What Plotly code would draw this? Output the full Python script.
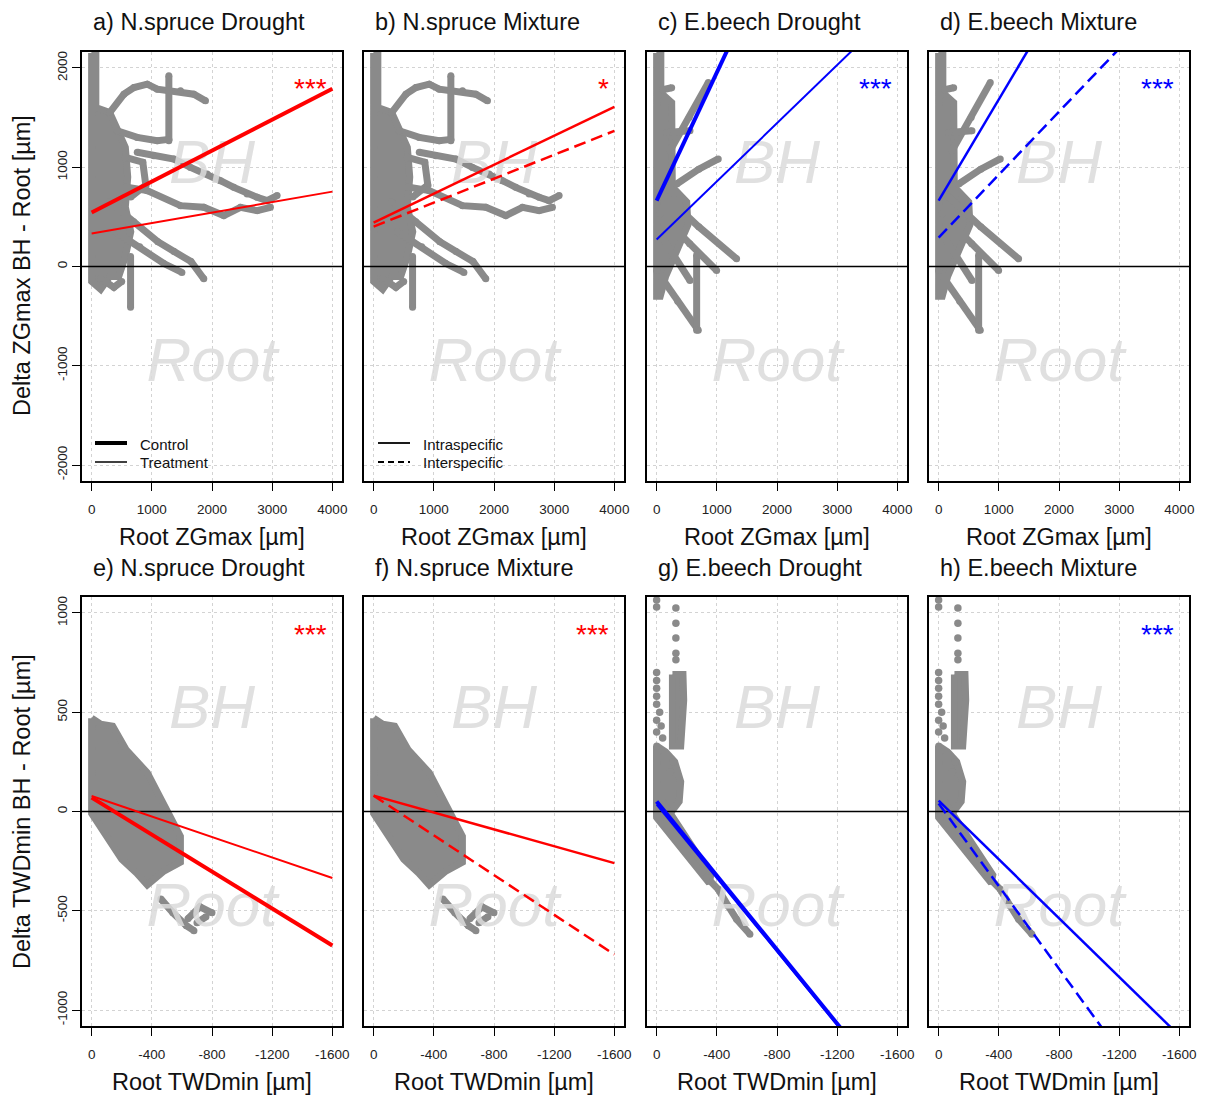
import plotly.graph_objects as go

# ---------------------------------------------------------------- layout grid
W, H = 1208, 1097
PANEL_LEFT = [82, 364, 647, 929]
PANEL_W = 260
ROW_TOP = [52, 597]
PANEL_H = 429

FONT = "Liberation Sans, Arial, sans-serif"
GRAY = "#8a8a8a"
RED = "#ff0000"
BLUE = "#0000ff"

# ---------------------------------------------------------------- panel texts
TITLES = ["a) N.spruce Drought", "b) N.spruce Mixture", "c) E.beech Drought", "d) E.beech Mixture",
          "e) N.spruce Drought", "f) N.spruce Mixture", "g) E.beech Drought", "h) E.beech Mixture"]
STARS = ["***", "*", "***", "***", "***", "***", "", "***"]
X_TITLES = ["Root ZGmax [µm]", "Root TWDmin [µm]"]
Y_TITLES = ["Delta ZGmax BH - Root [µm]", "Delta TWDmin BH - Root [µm]"]

# ---------------------------------------------------------------- axes
X_LIM = [(0, 4000), (0, -1600)]
Y_LIM = [(-2000, 2000), (-1000, 1000)]
X_TICKS = [[0, 1000, 2000, 3000, 4000], [0, -400, -800, -1200, -1600]]
Y_TICKS = [[-2000, -1000, 0, 1000, 2000], [-1000, -500, 0, 500, 1000]]

# ---------------------------------------------------------------- point clouds
# dense regions (outlines) and trajectories of the gray observations
SPRUCE_ZG_MASS = [[(0, 2150), (70, 2150), (70, 1600), (300, 1550), (450, 1350), (560, 1200), (600, 900),
                   (560, 600), (650, 350), (560, 100), (450, -100), (300, -100), (150, -230), (0, -150)]]
SPRUCE_ZG_TRAILS = [
    [(300, 1550), (537, 1735), (702, 1802), (924, 1836), (1090, 1786), (1283, 1769), (1477, 1769),
     (1698, 1735), (1892, 1668)],
    [(1283, 1920), (1283, 1266)],
    [(426, 1367), (758, 1300), (1090, 1266), (1283, 1280)],
    [(560, 1100), (850, 1050), (900, 820), (650, 700)],
    [(758, 1150), (1035, 1116), (1367, 1082), (1643, 998), (1920, 931), (2141, 864), (2362, 797),
     (2584, 730), (2750, 697), (2916, 663), (3082, 714)],
    [(560, 800), (924, 764), (1477, 613), (1864, 596), (2196, 513), (2473, 596), (2750, 563), (2971, 596)],
    [(300, 650), (700, 450), (1100, 250), (1370, 150), (1650, 50), (1864, -124)],
    [(400, 350), (800, 200), (1200, 30), (1500, -60)],
    [(647, 100), (647, -410)],
    [(150, -120), (370, -210), (500, -150)],
]
BEECH_ZG_MASS = [[(0, 2150), (70, 2150), (70, 1750), (250, 1650), (260, 800), (500, 650), (520, 420),
                  (330, 150), (150, -100), (60, -300), (0, -300)]]
BEECH_ZG_TRAILS = [
    [(222, 1166), (540, 1500), (858, 1852)],
    [(166, 1350), (554, 1367)],
    [(100, 1780), (250, 1800)],
    [(333, 831), (700, 980), (1024, 1083)],
    [(56, 764), (700, 400), (1329, 77)],
    [(56, 530), (550, 230), (997, -40)],
    [(56, 329), (554, -141)],
    [(0, -40), (350, -350), (692, -643)],
    [(665, 117), (665, -643)],
]
SPRUCE_TWD_MASS = [[(0, 470), (-60, 440), (-140, 430), (-230, 310), (-370, 195), (-490, 25), (-590, -125),
                    (-590, -255), (-480, -300), (-370, -370), (-300, -310), (-200, -240), (-100, -120),
                    (0, -10)]]
SPRUCE_TWD_TRAILS = [
    [(-460, -440), (-540, -510), (-630, -575), (-680, -600)],
    [(-640, -540), (-720, -480), (-800, -510)],
    [(-700, -560), (-760, -530)],
]
BEECH_TWD_MASS = [
    [(-105, 690), (-175, 690), (-180, 560), (-160, 330), (-105, 330)],
    [(0, 330), (-60, 300), (-120, 250), (-160, 150), (-150, 50), (-100, 0), (0, -10)],
    [(0, 60), (-30, 60), (-360, -320), (-350, -360), (0, -30)],
]
BEECH_TWD_TRAILS = [
    [(0, 330), (0, 0)],
    [(-330, -330), (-410, -392), (-476, -476), (-532, -543), (-620, -618)],
]
BEECH_TWD_DOTS = [(0, 1065), (0, 1030), (-128, 1024), (-128, 948), (-128, 873), (-128, 797), (-128, 764),
                  (0, 700), (0, 660), (0, 620), (0, 580), (0, 540), (-20, 500), (0, 460), (-30, 430),
                  (0, 400), (-40, 370), (-110, 250), (-90, 200)]

CLOUDS = [
    (SPRUCE_ZG_MASS, SPRUCE_ZG_TRAILS, []),
    (BEECH_ZG_MASS, BEECH_ZG_TRAILS, []),
    (SPRUCE_TWD_MASS, SPRUCE_TWD_TRAILS, []),
    (BEECH_TWD_MASS, BEECH_TWD_TRAILS, BEECH_TWD_DOTS),
]

# ---------------------------------------------------------------- fitted lines  y = b0 + b1 * x
FIT1_INTERCEPT = [543, 442, 663, 663, 70, 80, 50, 55]
FIT1_SLOPE = [0.3115, 0.2915, 1.29, 1.02, 0.4656, 0.2125, 0.932, 0.74]
FIT2_INTERCEPT = [332, 402, 271, 291, 78, 80, 35, 40]
FIT2_SLOPE = [0.1055, 0.241, 0.586, 0.634, 0.258, 0.5, 0.925, 1.04]

LEGEND_TREAT = ["Control", "Treatment"]
LEGEND_MIX = ["Intraspecific", "Interspecific"]


def px_x(v):
    return v / W


def px_y(v):
    return 1 - v / H


fig = go.Figure()
annotations = []
shapes = []

for i in range(8):
    row, col = divmod(i, 4)
    left = PANEL_LEFT[col]
    top = ROW_TOP[row]
    xs = "" if i == 0 else str(i + 1)
    xref, yref = "x" + xs, "y" + xs

    xlo, xhi = X_LIM[row]
    ylo, yhi = Y_LIM[row]
    pad_x = 0.04 * (xhi - xlo)
    pad_y = 0.04 * (yhi - ylo)
    xr = [xlo - pad_x, xhi + pad_x]
    yr = [ylo - pad_y, yhi + pad_y]

    tick_text = [str(v) for v in X_TICKS[row]]
    fig.layout["xaxis" + xs] = dict(
        domain=[px_x(left), px_x(left + PANEL_W)], anchor=yref, range=xr, autorange=False,
        automargin=False,
        tickvals=X_TICKS[row], ticktext=tick_text, ticks="outside", ticklen=8, tickwidth=1.3,
        tickcolor="black", tickfont=dict(family=FONT, size=13.5, color="#222"), ticklabelstandoff=7,
        showgrid=True, gridcolor="#d3d3d3", griddash="dot", gridwidth=1, zeroline=False,
        showline=True, mirror=True, linecolor="black", linewidth=1.5,
    )
    fig.layout["yaxis" + xs] = dict(
        domain=[px_y(top + PANEL_H), px_y(top)], anchor=xref, range=yr, autorange=False,
        automargin=False,
        tickvals=Y_TICKS[row], ticktext=[str(v) for v in Y_TICKS[row]],
        showticklabels=(col == 0), ticks="outside" if col == 0 else "", ticklen=8, tickwidth=1.3,
        tickcolor="black", tickangle=-90, tickfont=dict(family=FONT, size=13.5, color="#222"),
        ticklabelstandoff=0,
        showgrid=True, gridcolor="#d3d3d3", griddash="dot", gridwidth=1, zeroline=False,
        showline=True, mirror=True, linecolor="black", linewidth=1.5,
    )

    # gray observations
    masses, trails, dots = CLOUDS[(row * 2) + (col // 2)]
    for poly in masses:
        fig.add_trace(go.Scatter(
            x=[p[0] for p in poly] + [poly[0][0]], y=[p[1] for p in poly] + [poly[0][1]],
            mode="lines", fill="toself", fillcolor=GRAY, line=dict(color=GRAY, width=7),
            xaxis=xref, yaxis=yref, hoverinfo="skip", showlegend=False))
    for tr in trails:
        fig.add_trace(go.Scatter(
            x=[p[0] for p in tr], y=[p[1] for p in tr], mode="lines+markers",
            line=dict(color=GRAY, width=7), marker=dict(color=GRAY, size=7),
            xaxis=xref, yaxis=yref, hoverinfo="skip", showlegend=False))
    if dots:
        fig.add_trace(go.Scatter(
            x=[p[0] for p in dots], y=[p[1] for p in dots], mode="markers",
            marker=dict(color=GRAY, size=7.5), xaxis=xref, yaxis=yref, hoverinfo="skip", showlegend=False))

    # watermark labels for the two halves of the panel
    xmid = (xlo + xhi) / 2
    fig.add_trace(go.Scatter(
        x=[xmid, xmid], y=[yhi / 2, ylo / 2], mode="text", text=["<i>BH</i>", "<i>Root</i>"],
        textfont=dict(family=FONT, size=62, color="rgba(218,218,218,0.85)"),
        textposition="middle center", xaxis=xref, yaxis=yref, hoverinfo="skip", showlegend=False))

    # zero reference line
    fig.add_trace(go.Scatter(
        x=xr, y=[0, 0], mode="lines", line=dict(color="black", width=1.5),
        xaxis=xref, yaxis=yref, hoverinfo="skip", showlegend=False))

    # fitted regressions
    color = RED if col < 2 else BLUE
    mixture = col % 2 == 1
    fx = [xlo, xhi]
    styles = [dict(width=2.5, dash="solid"), dict(width=2.5, dash="12px,6px")] if mixture else \
             [dict(width=4, dash="solid"), dict(width=2, dash="solid")]
    for b0, b1, st in ((FIT1_INTERCEPT[i], FIT1_SLOPE[i], styles[0]),
                       (FIT2_INTERCEPT[i], FIT2_SLOPE[i], styles[1])):
        fig.add_trace(go.Scatter(
            x=fx, y=[b0 + b1 * v for v in fx], mode="lines",
            line=dict(color=color, width=st["width"], dash=st["dash"]),
            xaxis=xref, yaxis=yref, hoverinfo="skip", showlegend=False))

    # panel title
    title_y = 22 if row == 0 else 568
    annotations.append(dict(
        text=TITLES[i], x=px_x(left + 9), y=px_y(title_y), xref="paper", yref="paper",
        xanchor="left", yanchor="middle", showarrow=False, font=dict(family=FONT, size=23.5, color="#111")))
    # significance
    if STARS[i]:
        annotations.append(dict(
            text=STARS[i], x=px_x(left + PANEL_W - 13), y=px_y(top + 37), xref="paper", yref="paper",
            xanchor="right", yanchor="middle", showarrow=False, font=dict(family=FONT, size=28, color=color)))
    # x axis title
    annotations.append(dict(
        text=X_TITLES[row], x=px_x(left + PANEL_W / 2), y=px_y(537 if row == 0 else 1082),
        xref="paper", yref="paper", xanchor="center", yanchor="middle", showarrow=False,
        font=dict(family=FONT, size=23.5, color="#111")))

for row in range(2):
    annotations.append(dict(
        text=Y_TITLES[row], x=px_x(22), y=px_y(266 if row == 0 else 812), xref="paper", yref="paper",
        xanchor="center", yanchor="middle", textangle=-90, showarrow=False,
        font=dict(family=FONT, size=23.5, color="#111")))

# line-style keys in the first two panels
for k, (x0, labels, kinds) in enumerate((
        (95, LEGEND_TREAT, [dict(width=4, dash="solid"), dict(width=1.5, dash="solid")]),
        (378, LEGEND_MIX, [dict(width=1.8, dash="solid"), dict(width=1.8, dash="6px,4px")]))):
    for j, (lab, kind) in enumerate(zip(labels, kinds)):
        yy = 443 + j * 19
        shapes.append(dict(type="line", xref="paper", yref="paper", x0=px_x(x0), x1=px_x(x0 + 32),
                           y0=px_y(yy), y1=px_y(yy), line=dict(color="black", width=kind["width"],
                                                                dash=kind["dash"])))
        annotations.append(dict(
            text=lab, x=px_x(x0 + 43), y=px_y(yy + 1), xref="paper", yref="paper", xanchor="left",
            yanchor="middle", showarrow=False, font=dict(family=FONT, size=15, color="#111")))

fig.update_layout(
    width=W, height=H, margin=dict(l=0, r=0, t=0, b=0, autoexpand=False),
    paper_bgcolor="white", plot_bgcolor="white",
    annotations=annotations, shapes=shapes, showlegend=False,
)

fig.write_html("out.html")
